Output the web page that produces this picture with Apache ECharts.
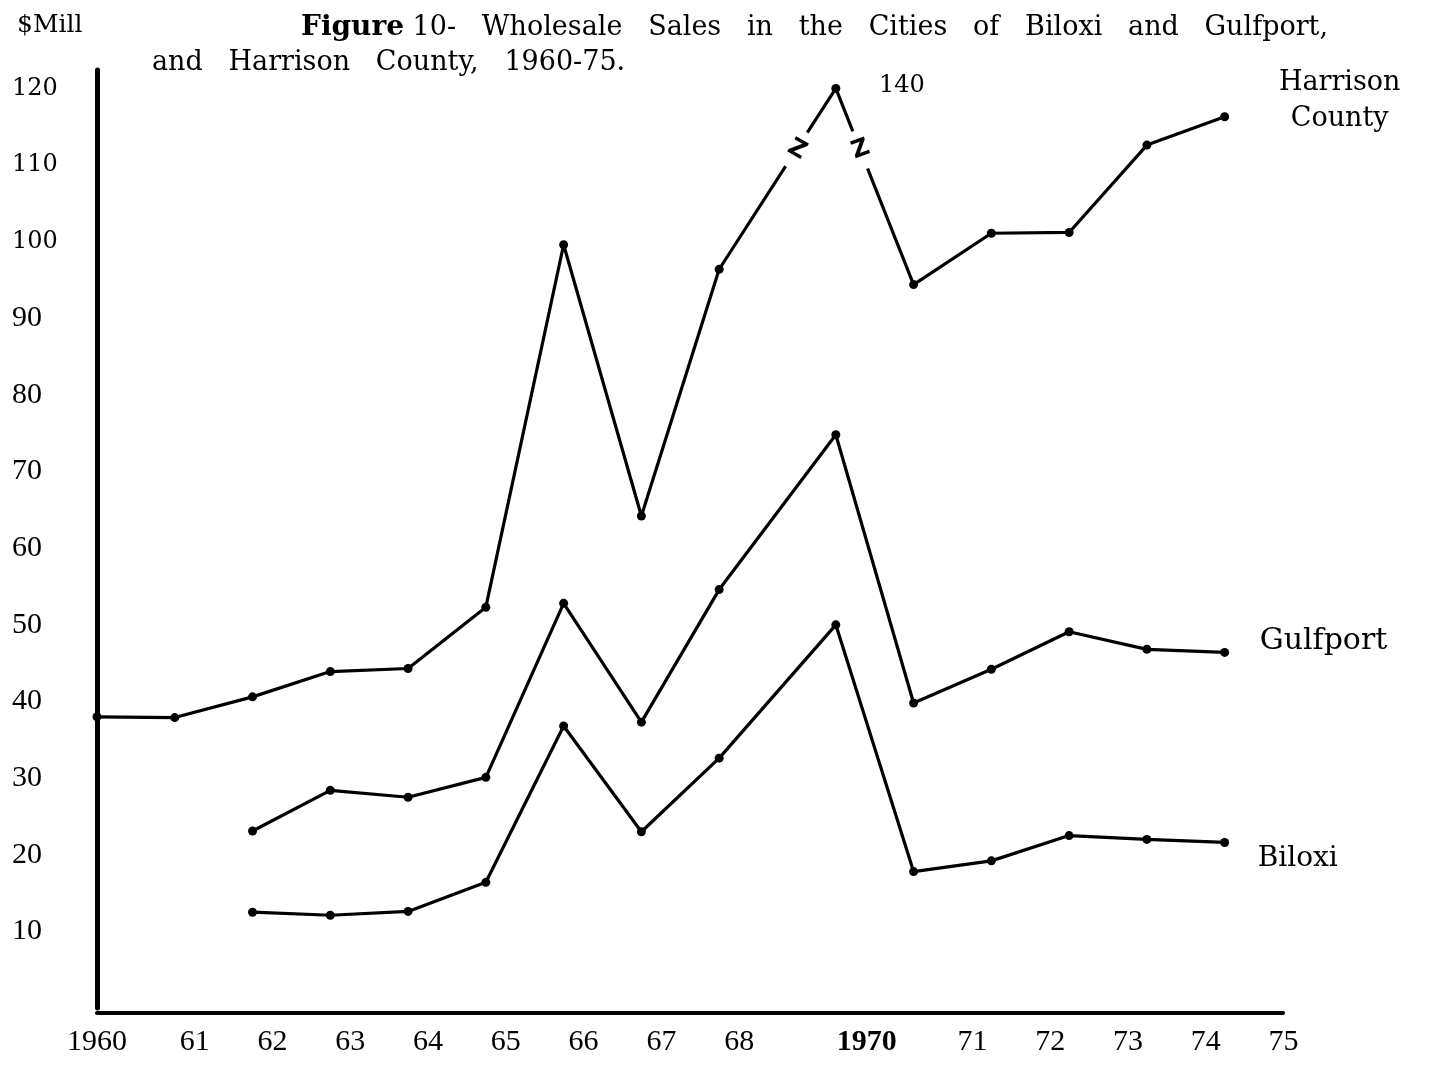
<!DOCTYPE html>
<html>
<head>
<meta charset="utf-8">
<title>Figure 10 - Wholesale Sales, Biloxi, Gulfport and Harrison County</title>
<script src="https://cdn.jsdelivr.net/npm/echarts@6/dist/echarts.min.js"></script>
<style>
  html, body { margin: 0; padding: 0; background: #fff; }
  #main { width: 1433px; height: 1066px; }
</style>
</head>
<body>
<div id="main"></div>
<script>
// x position of each plotted point (the drawing puts the points after 1968 half way between ticks)
const years = [1960, 1961, 1962, 1963, 1964, 1965, 1966, 1967, 1968, 1969.5, 1970.5, 1971.5, 1972.5, 1973.5, 1974.5]

// $ million (Harrison peak is drawn at 120 with a broken line, marked 140)
const harrison = [38.0, 37.9, 40.6, 43.9, 44.3, 52.3, 99.6, 64.2, 96.4, 120.0, 94.4, 101.1, 101.2, 112.6, 116.3]
const gulfport = [null, null, 23.1, 28.4, 27.5, 30.1, 52.8, 37.3, 54.6, 74.8, 39.8, 44.2, 49.1, 46.8, 46.4]
const biloxi = [null, null, 12.5, 12.1, 12.6, 16.4, 36.8, 23.0, 32.6, 50.0, 17.8, 19.2, 22.5, 22.0, 21.6]

// tick labels for 1960 .. 1975 (no label at 1969)
const xTickLabels = ['1960', '61', '62', '63', '64', '65', '66', '67', '68', '', '1970', '71', '72', '73', '74', '75']

// axis-break marks on the Harrison line and the true peak value
const breakMarks = [[1969.0, 112.0], [1969.82, 112.0]]
const peakNote = { coord: [1969.5, 120.0], text: '140' }

const serif = 'DejaVu Serif'
const book = 'Liberation Serif'

function lineSeries(name, values, extra) {
  const points = years.map((x, i) => [x, values[i]]).filter(p => p[1] !== null)
  return Object.assign({
    type: 'line',
    name: name,
    data: points,
    symbol: 'circle',
    symbolSize: 9,
    itemStyle: { color: '#000' },
    lineStyle: { color: '#000', width: 3.2, cap: 'round', join: 'round' },
    emphasis: { disabled: true },
    z: 3
  }, extra)
}

function breakPoint(coord, rectRotate, zRotate) {
  return {
    coord: coord,
    symbol: 'rect',
    symbolSize: [40, 10],
    symbolRotate: rectRotate,
    itemStyle: { color: '#fff', borderWidth: 0 },
    label: {
      show: true,
      formatter: 'Z',
      rotate: zRotate,
      fontFamily: 'DejaVu Sans',
      fontWeight: 'bold',
      fontSize: 24,
      color: '#000'
    }
  }
}

const option = {
  animation: false,
  backgroundColor: '#fff',
  title: [
    {
      text: '$Mill',
      left: 12,
      top: 8,
      textStyle: { fontFamily: serif, fontSize: 25, fontWeight: 'normal', color: '#000' }
    },
    {
      text: '{b|Figure} 10-   Wholesale   Sales   in   the   Cities   of   Biloxi   and   Gulfport,',
      left: 296,
      top: 9,
      textStyle: {
        fontFamily: serif, fontSize: 27, fontWeight: 'normal', color: '#000',
        rich: { b: { fontFamily: serif, fontSize: 28, fontWeight: 'bold', color: '#000' } }
      }
    },
    {
      text: 'and   Harrison   County,   1960-75.',
      left: 147,
      top: 44,
      textStyle: { fontFamily: serif, fontSize: 27, fontWeight: 'normal', color: '#000' }
    }
  ],
  grid: { left: 97, right: 150, top: 70, bottom: 58, containLabel: false },
  xAxis: {
    type: 'value',
    min: 1960,
    max: 1975.25,
    interval: 1,
    offset: 5,
    axisLine: { onZero: false, lineStyle: { color: '#000', width: 4 } },
    axisTick: { show: false },
    splitLine: { show: false },
    axisLabel: {
      margin: 14,
      padding: [0, 0, 0, 40],
      fontFamily: book,
      fontSize: 30,
      color: '#000',
      formatter: function (v) {
        if (Math.abs(v - Math.round(v)) > 1e-6) return ''
        const t = xTickLabels[Math.round(v) - 1960] || ''
        if (t === '1960') return '{a|1960}'
        if (t === '1970') return '{b|1970}'
        return t
      },
      rich: {
        a: { fontFamily: book, fontSize: 30, color: '#000', padding: [0, 40, 0, 0] },
        b: { fontFamily: book, fontSize: 30, fontWeight: 'bold', color: '#000', padding: [0, 56, 0, 0] }
      }
    }
  },
  yAxis: {
    type: 'value',
    min: 0,
    max: 122.4,
    interval: 10,
    axisLine: { onZero: false, lineStyle: { color: '#000', width: 5 } },
    axisTick: { show: false },
    splitLine: { show: false },
    axisLabel: {
      align: 'left',
      margin: 85,
      fontFamily: book,
      fontSize: 30,
      color: '#000',
      formatter: function (v) {
        if (v <= 0 || v > 120 || v % 10 !== 0) return ''
        return v >= 100 ? '{h|' + v + '}' : String(v)
      },
      rich: { h: { fontFamily: serif, fontSize: 24, color: '#000' } }
    }
  },
  series: [
    lineSeries('Harrison County', harrison, {
      endLabel: {
        show: true,
        formatter: 'Harrison\nCounty',
        align: 'center',
        offset: [107, -16],
        fontFamily: serif,
        fontSize: 27,
        lineHeight: 36,
        color: '#000'
      },
      markPoint: {
        silent: true,
        animation: false,
        data: [
          breakPoint(breakMarks[0], 57, -30),
          breakPoint(breakMarks[1], -69, 20),
          {
            coord: peakNote.coord,
            symbol: 'circle',
            symbolSize: 0,
            label: {
              show: true,
              formatter: peakNote.text,
              offset: [66, -3],
              fontFamily: serif,
              fontSize: 24,
              color: '#000'
            }
          }
        ]
      }
    }),
    lineSeries('Gulfport', gulfport, {
      endLabel: {
        show: true,
        formatter: 'Gulfport',
        offset: [27, -11],
        fontFamily: serif,
        fontSize: 30,
        color: '#000'
      }
    }),
    lineSeries('Biloxi', biloxi, {
      endLabel: {
        show: true,
        formatter: 'Biloxi',
        offset: [25, 16],
        fontFamily: serif,
        fontSize: 28,
        color: '#000'
      }
    })
  ]
}

const myChart = echarts.init(document.getElementById('main'))
myChart.setOption(option)
window.onresize = function () {
  myChart.resize()
}
</script>
</body>
</html>
